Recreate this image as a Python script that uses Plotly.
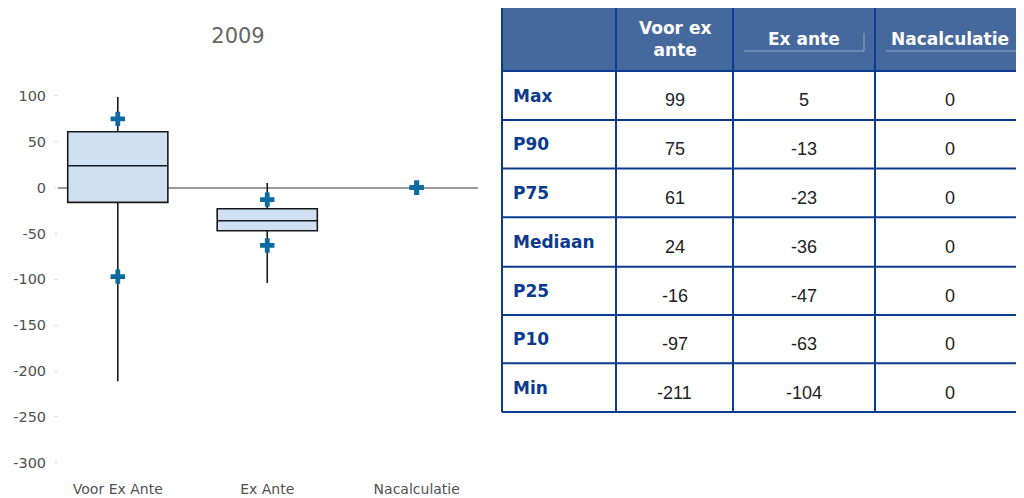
import plotly.graph_objects as go

categories = ["Voor Ex Ante", "Ex Ante", "Nacalculatie"]
col_headers = ["", "Voor ex<br>ante", "Ex ante", "Nacalculatie"]
row_labels = ["Max", "P90", "P75", "Mediaan", "P25", "P10", "Min"]

p_max = [99, 5, 0]
p90 = [75, -13, 0]
p75 = [61, -23, 0]
median = [24, -36, 0]
p25 = [-16, -47, 0]
p10 = [-97, -63, 0]
p_min = [-211, -104, 0]

y_ticks = [100, 50, 0, -50, -100, -150, -200, -250, -300]

DARK_BLUE = "#0b3a8f"
HEADER_BLUE = "#46699d"
BOX_FILL = "#cfe0f3"
MARK_BLUE = "#0c6aa3"

# page has an 8px body margin, so lay things out in screen pixels minus that
W, H, OFF = 1016, 490, 8


def fx(px):
    return (px - OFF) / W


def fy(py):
    return 1 - (py - OFF) / H


fig = go.Figure()

# boxes only where there is a spread
keep = [i for i in range(len(categories)) if p_max[i] != p_min[i]]
fig.add_trace(go.Box(
    x=[categories[i] for i in keep],
    q1=[p25[i] for i in keep], median=[median[i] for i in keep], q3=[p75[i] for i in keep],
    lowerfence=[p_min[i] for i in keep], upperfence=[p_max[i] for i in keep],
    fillcolor=BOX_FILL, line=dict(color="#1a1a1a", width=1.6),
    whiskerwidth=0, width=0.67, boxpoints=False, hoverinfo="skip",
))

# P90 / P10 markers
fig.add_trace(go.Scatter(
    x=categories + categories, y=p90 + p10, mode="markers",
    marker=dict(symbol="cross", size=12, color=MARK_BLUE, line=dict(width=0)),
    hoverinfo="skip",
))

# ---- table drawn with shapes + annotations (vertically centred text)
col_edges = [502, 616, 733, 875, 1040]
row_edges = [7, 71, 120, 168.5, 217.3, 266.7, 315, 363.3, 412]
line_style = dict(color=DARK_BLUE, width=2)

shapes = [dict(type="rect", xref="paper", yref="paper", layer="below",
               x0=fx(col_edges[0]), x1=fx(col_edges[-1]), y0=fy(row_edges[1]), y1=fy(row_edges[0]),
               fillcolor=HEADER_BLUE, line=dict(width=0))]
# thin light rules under two header labels
for x0, x1 in [(744, 864), (886, 1040)]:
    shapes.append(dict(type="line", xref="paper", yref="paper",
                       x0=fx(x0), x1=fx(x1), y0=fy(51), y1=fy(51),
                       line=dict(color="#93a8c8", width=1)))
shapes.append(dict(type="line", xref="paper", yref="paper",
                   x0=fx(864), x1=fx(864), y0=fy(33), y1=fy(51),
                   line=dict(color="#93a8c8", width=1)))
for ry in row_edges:
    shapes.append(dict(type="line", xref="paper", yref="paper",
                       x0=fx(col_edges[0]), x1=fx(col_edges[-1]), y0=fy(ry), y1=fy(ry), line=line_style))
for cx in col_edges[:-1]:
    shapes.append(dict(type="line", xref="paper", yref="paper",
                       x0=fx(cx), x1=fx(cx), y0=fy(row_edges[0]), y1=fy(row_edges[-1]), line=line_style))

annotations = []
head_font = dict(family="DejaVu Sans", size=17, color="white")
for j, h in enumerate(col_headers):
    if not h:
        continue
    cx = (col_edges[j] + min(col_edges[j + 1], 1024)) / 2
    annotations.append(dict(xref="paper", yref="paper", x=fx(cx), y=fy(39.5),
                            text=f"<b>{h}</b>", showarrow=False, font=head_font,
                            xanchor="center", yanchor="middle"))

columns = [p_max, p90, p75, median, p25, p10, p_min]
for r, lab in enumerate(row_labels):
    cy = (row_edges[r + 1] + row_edges[r + 2]) / 2
    annotations.append(dict(xref="paper", yref="paper", x=fx(511), y=fy(cy),
                            text=f"<b>{lab}</b>", showarrow=False,
                            font=dict(family="DejaVu Sans", size=17, color=DARK_BLUE),
                            xanchor="left", yanchor="middle"))
    for j in range(3):
        cx = (col_edges[j + 1] + min(col_edges[j + 2], 1024)) / 2
        annotations.append(dict(xref="paper", yref="paper", x=fx(cx), y=fy(cy + 5),
                                text=str(columns[r][j]), showarrow=False,
                                font=dict(family="Liberation Sans", size=18, color="#222"),
                                xanchor="center", yanchor="middle"))

fig.update_layout(
    width=W, height=H, template="none",
    margin=dict(l=0, r=0, t=0, b=0),
    paper_bgcolor="white", plot_bgcolor="white",
    showlegend=False,
    font=dict(family="DejaVu Sans", size=14, color="#505050"),
    title=dict(text="2009", x=fx(238), xanchor="center", y=fy(36), yanchor="middle",
               font=dict(family="DejaVu Sans", size=21, color="#666")),
    shapes=shapes, annotations=annotations,
)
fig.update_xaxes(
    domain=[fx(58), fx(478)], range=[-0.4, 2.41], type="category",
    showgrid=False, showline=False, zeroline=False,
    ticks="outside", ticklen=4, tickcolor="rgba(0,0,0,0)",
    tickfont=dict(family="DejaVu Sans", size=14, color="#505050"), automargin=False,
)
fig.update_yaxes(
    domain=[fy(472), fy(91.4)], range=[-310, 105],
    tickvals=y_ticks, ticktext=[str(v) for v in y_ticks],
    showgrid=False, showline=False,
    zeroline=True, zerolinecolor="#9a9a9a", zerolinewidth=1.5,
    ticks="outside", ticklen=2, tickcolor="#cccccc", ticklabelstandoff=6,
    tickfont=dict(family="DejaVu Sans", size=14.5, color="#505050"), automargin=False,
)

fig.write_html("out.html")
